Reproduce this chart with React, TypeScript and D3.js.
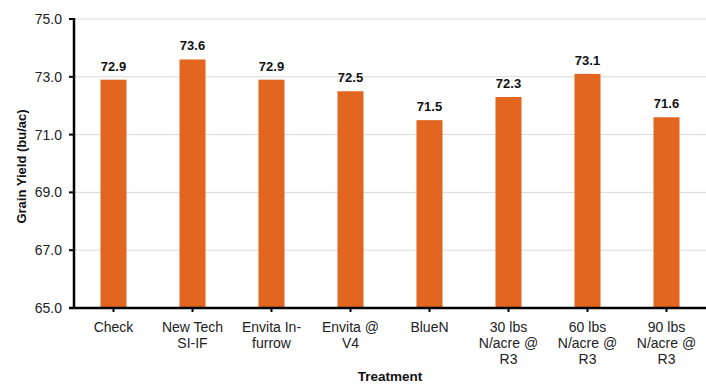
import React from "react";
import * as d3 from "d3";

const categories = [
  "Check",
  "New Tech\nSI-IF",
  "Envita In-\nfurrow",
  "Envita @\nV4",
  "BlueN",
  "30 lbs\nN/acre @\nR3",
  "60 lbs\nN/acre @\nR3",
  "90 lbs\nN/acre @\nR3",
];
const yields = [72.9, 73.6, 72.9, 72.5, 71.5, 72.3, 73.1, 71.6];
const yTicks = [65, 67, 69, 71, 73, 75];

const W = 706;
const H = 385;
const M = { left: 74, right: 0, top: 19, bottom: 77 };
const FONT = "Liberation Sans, Arial, sans-serif";
const BAR = "#E2661F";

export default function App() {
  const x = d3
    .scaleBand<string>()
    .domain(categories)
    .range([M.left, W - M.right]);
  const y = d3.scaleLinear().domain([65, 75]).range([H - M.bottom, M.top]);
  const barW = 26;
  const y0 = y(65);

  return (
    <svg
      width={W}
      height={H}
      style={{ position: "absolute", left: 0, top: 0, background: "#fff" }}
      fontFamily={FONT}
    >
      {yTicks.map((t) => (
        <g key={t}>
          <line x1={M.left} x2={W} y1={y(t)} y2={y(t)} stroke="#D9D9D9" strokeWidth={1} />
          <line x1={M.left - 5} x2={M.left} y1={y(t)} y2={y(t)} stroke="#000" strokeWidth={2} />
          <text x={M.left - 12} y={y(t)} dy="0.35em" textAnchor="end" fontSize={14} fill="#222">
            {d3.format(".1f")(t)}
          </text>
        </g>
      ))}
      {categories.map((c, i) => {
        const cx = (x(c) as number) + x.bandwidth() / 2;
        const top = y(yields[i]);
        return (
          <g key={c}>
            <rect x={cx - barW / 2} y={top} width={barW} height={y0 - top} fill={BAR} />
            <text x={cx} y={top - 9} textAnchor="middle" fontSize={13} fontWeight="bold" fill="#111">
              {d3.format(".1f")(yields[i])}
            </text>
            <line x1={cx} x2={cx} y1={y0} y2={y0 + 4} stroke="#000" strokeWidth={2} />
            {c.split("\n").map((ln, k) => (
              <text key={k} x={cx} y={y0 + 24 + k * 16} textAnchor="middle" fontSize={14} fill="#222">
                {ln}
              </text>
            ))}
          </g>
        );
      })}
      <line x1={M.left} x2={M.left} y1={M.top - 1} y2={y0 + 1} stroke="#000" strokeWidth={2.5} />
      <line x1={M.left - 5} x2={W} y1={y0} y2={y0} stroke="#000" strokeWidth={2.5} />
      <text
        transform={`translate(26,${(M.top + y0) / 2 + 3}) rotate(-90)`}
        textAnchor="middle"
        fontSize={13}
        fontWeight="bold"
        fill="#111"
      >
        Grain Yield (bu/ac)
      </text>
      <text x={(M.left + W) / 2} y={381} textAnchor="middle" fontSize={13.5} fontWeight="bold" fill="#111">
        Treatment
      </text>
    </svg>
  );
}
